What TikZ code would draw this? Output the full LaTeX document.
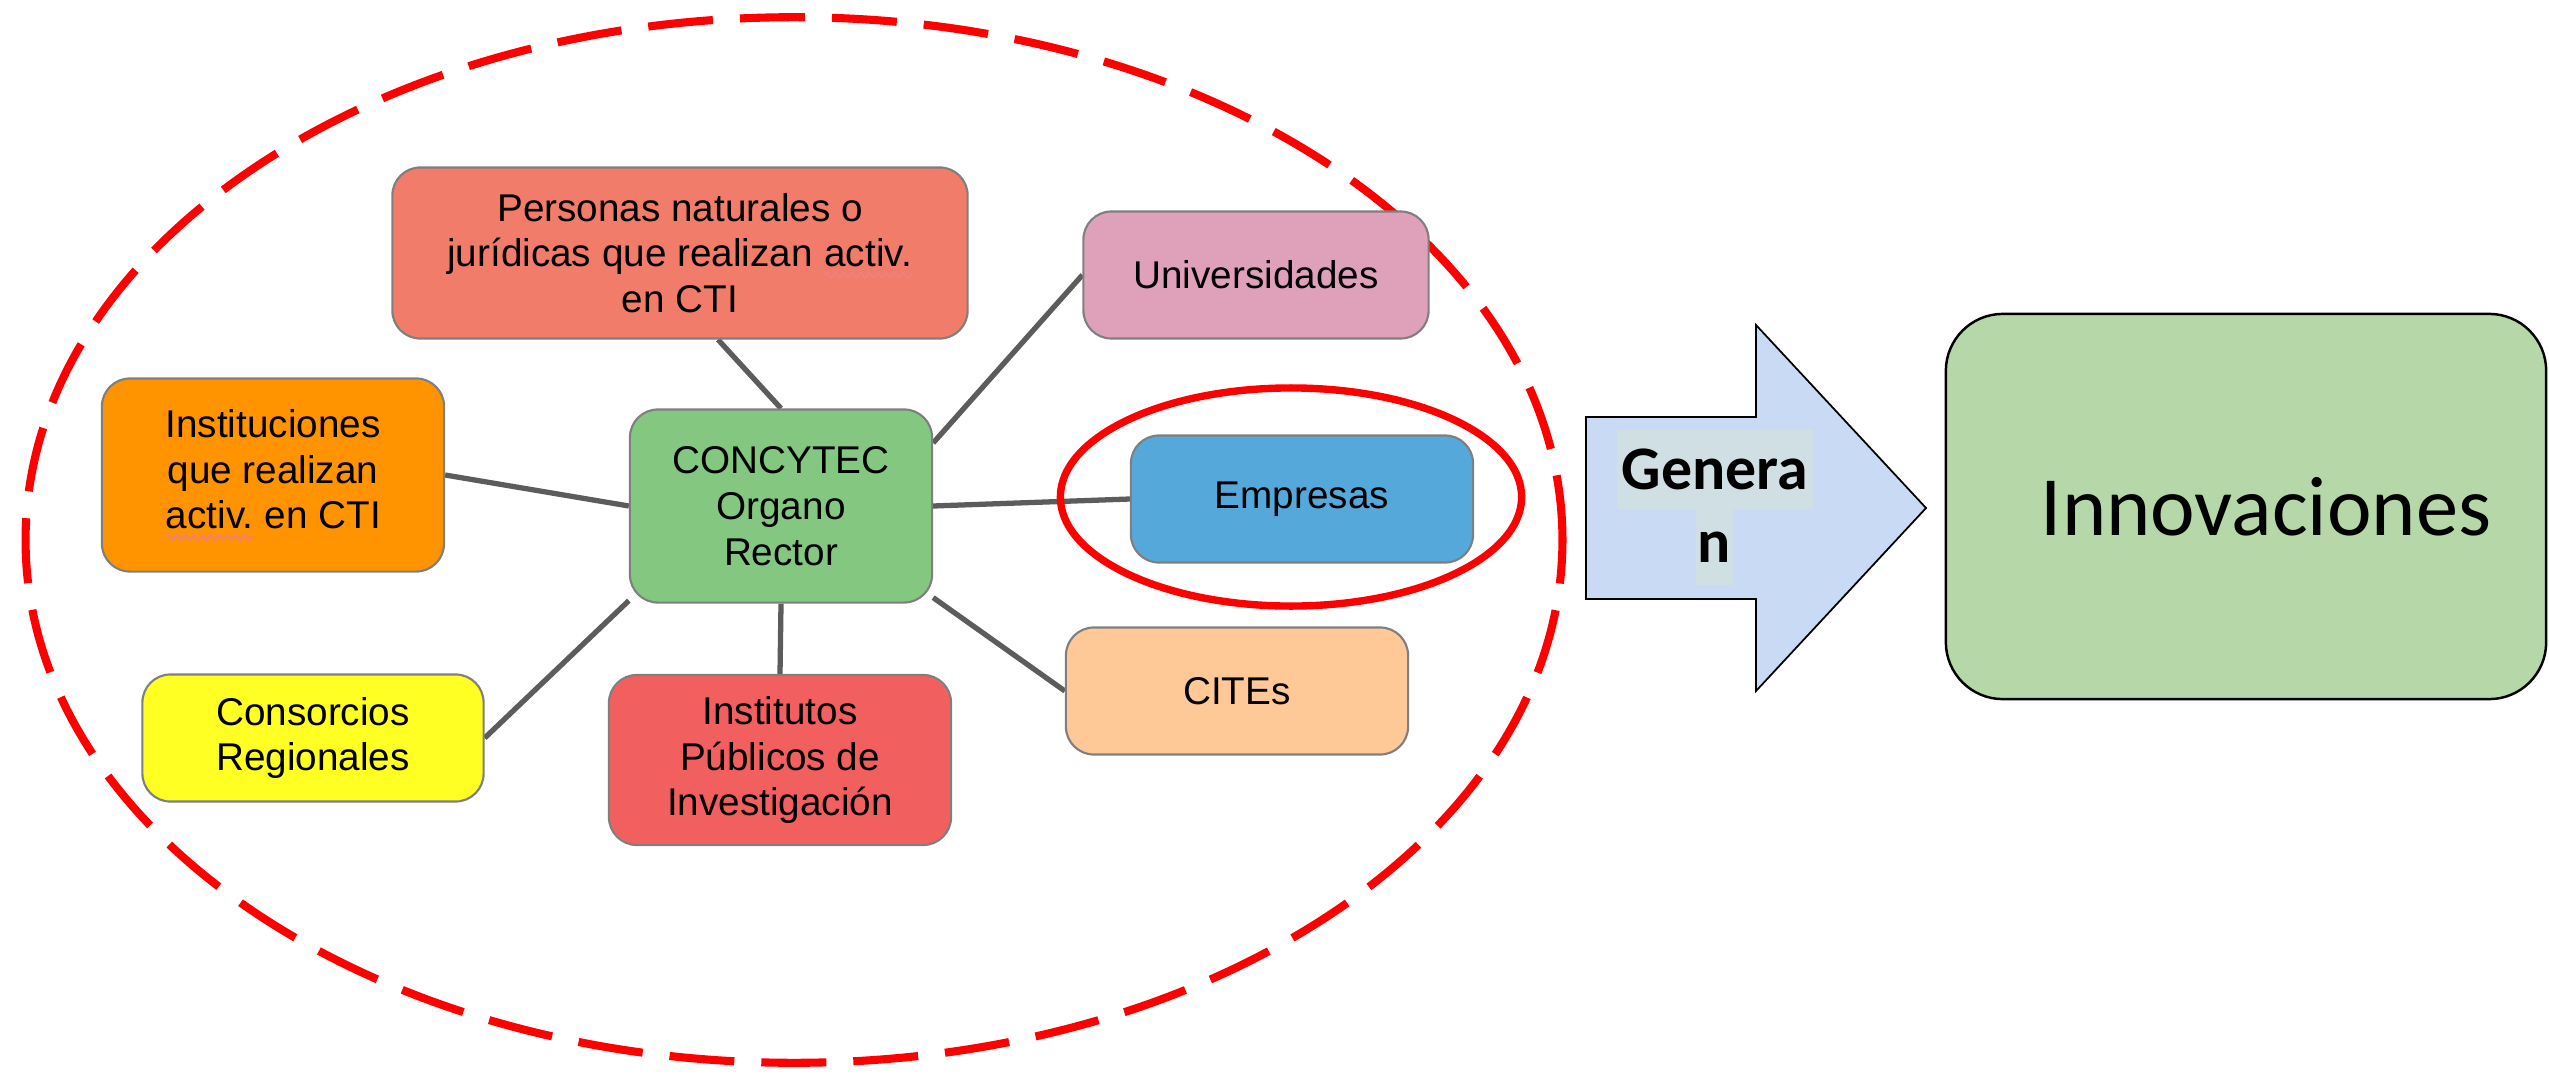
\documentclass[tikz,border=0pt]{standalone}
\usepackage{fontspec}
\setmainfont{Liberation Sans}
\newfontfamily\calibri{Carlito}
\usetikzlibrary{calc,shapes.geometric,decorations.pathmorphing}
\definecolor{cPers}{HTML}{F07C69}
\definecolor{cUniv}{HTML}{DFA1BA}
\definecolor{cInst}{HTML}{FF9400}
\definecolor{cConc}{HTML}{84C781}
\definecolor{cEmp}{HTML}{54A8DA}
\definecolor{cCites}{HTML}{FFC897}
\definecolor{cCons}{HTML}{FFFF23}
\definecolor{cIpi}{HTML}{F25F5F}
\definecolor{cArrow}{HTML}{C9DAF5}
\definecolor{cGenBg}{HTML}{D0DFE3}
\definecolor{cInnov}{HTML}{B6D7A8}
\definecolor{boxgray}{HTML}{7F7F7F}
\definecolor{linegray}{HTML}{5C5C5C}
\definecolor{spell}{HTML}{F08080}
\newcommand\spellerr[1]{\tikz[x=1cm,y=1cm,baseline=(sw.base)]{%
  \node[inner sep=0pt,outer sep=0pt,draw=none,fill=none,rounded corners=0pt,
    minimum width=0pt,minimum height=0pt,shape=rectangle] (sw) {#1};
  \draw[spell, line width=0.5pt, rounded corners=0pt, decorate,
    decoration={snake,amplitude=0.7pt,segment length=2.4pt}]
    ([yshift=-2.4pt]sw.base west) -- ([yshift=-2.4pt]sw.base east);}}
\pgfdeclarelayer{bg}
\pgfsetlayers{bg,main}
\begin{document}
\begin{tikzpicture}[x=0.01cm,y=-0.01cm,
  box/.style={draw=boxgray, line width=0.6pt, rounded corners=0.28cm, align=center,
    font=\fontsize{11}{13}\selectfont, inner sep=0pt},
  edge/.style={draw=linegray, line width=1.5pt},
  redring/.style={draw=red, line width=2.1pt, ellipse, inner sep=0pt},
  bigarrow/.style={draw=black, line width=0.5pt, fill=cArrow},
  genlabel/.style={fill=cGenBg, inner sep=0pt, font=\calibri\bfseries\fontsize{17.6}{20}\selectfont}
]
\useasboundingbox (0,0) rectangle (2549,1076);

% ecosystem boundary
\node[draw=red, line width=2.3pt, ellipse, inner sep=0pt, dash pattern=on 0.65cm off 0.27cm,
  minimum width=15.36cm, minimum height=10.45cm] (ecosystem) at (794,540) {};

% nodes
\node[box, fill=cPers, minimum width=5.75cm, minimum height=1.71cm] (personas) at (680,253)
  {Personas naturales o\\jurídicas que realizan \spellerr{activ.}\\en CTI};
\node[box, fill=cUniv, minimum width=3.45cm, minimum height=1.27cm] (universidades) at (1256,275)
  {Universidades};
\node[box, fill=cInst, minimum width=3.42cm, minimum height=1.93cm] (instituciones) at (273,475)
  {Instituciones\\que realizan\\\spellerr{activ.} en CTI};
\node[box, fill=cConc, minimum width=3.02cm, minimum height=1.93cm] (concytec) at (781,506)
  {CONCYTEC\\Organo\\Rector};
\node[box, fill=cEmp, minimum width=3.42cm, minimum height=1.27cm] (empresas) at (1302,499)
  {Empresas};
\node[box, fill=cCites, minimum width=3.42cm, minimum height=1.27cm] (cites) at (1237,691)
  {CITEs};
\node[box, fill=cCons, minimum width=3.41cm, minimum height=1.27cm] (consorcios) at (313,738)
  {Consorcios\\Regionales};
\node[box, fill=cIpi, minimum width=3.42cm, minimum height=1.70cm] (institutos) at (780,760)
  {Institutos\\Públicos de\\Investigación};

% highlight around Empresas
\node[redring, minimum width=4.61cm, minimum height=2.18cm] (empring) at (1291,497) {};

% connectors
\begin{pgfonlayer}{bg}
\draw[edge] ([xshift=0.38cm]personas.south) -- (concytec.north);
\draw[edge] ([yshift=0.63cm]concytec.east) -- (universidades.west);
\draw[edge] (instituciones.east) -- (concytec.west);
\draw[edge] (concytec.east) -- (empresas.west);
\draw[edge] ([yshift=0.06cm]concytec.south east) -- (cites.west);
\draw[edge] ([yshift=0.03cm]concytec.south west) -- (consorcios.east);
\draw[edge] (concytec.south) -- (institutos.north);
\end{pgfonlayer}

% big arrow
\draw[bigarrow] (1586,417) -- (1756,417) -- (1756,325) -- (1926,508) -- (1756,691)
  -- (1756,599) -- (1586,599) -- cycle;
\node[genlabel, minimum width=1.96cm, minimum height=0.79cm] (gen1) at (1715,469.5) {Genera};
\node[genlabel, minimum width=0.37cm, minimum height=0.76cm] (gen2) at (1714.5,547) {n};

% result
\node[draw=black, line width=0.7pt, fill=cInnov, rounded corners=0.57cm, inner sep=0pt,
  minimum width=6.0cm, minimum height=3.85cm,
  font=\calibri\fontsize{24}{28}\selectfont] (innov) at (2246,506.5)
  {\hspace*{0.4cm}Innovaciones};
\end{tikzpicture}
\end{document}
